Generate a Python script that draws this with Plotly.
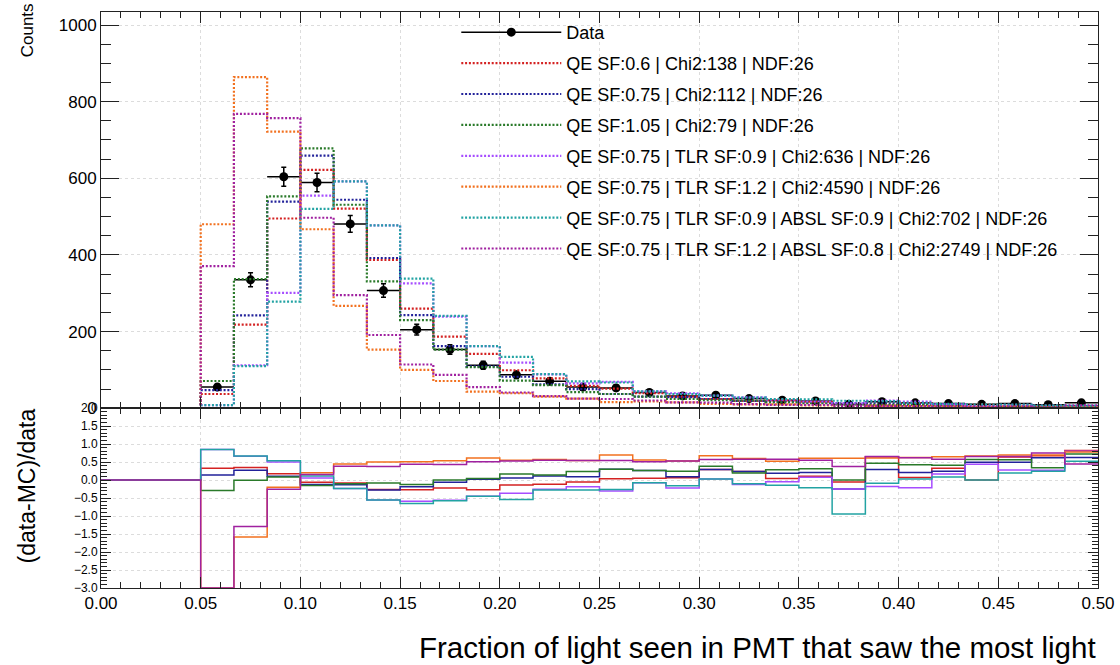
import numpy as np
import plotly.graph_objects as go

# ---------------- data ----------------
bin_edges = np.linspace(0.0, 0.5, 31)
bin_centers = 0.5 * (bin_edges[:-1] + bin_edges[1:])

data_counts = [0, 0, 0, 55, 335, 604, 589, 481, 307, 205, 153, 112, 87, 70, 55,
               53, 41, 32, 34, 25, 21, 19, 10, 17, 14, 12, 10, 12, 9, 14]
data_errors = [0, 0, 0, 7.4, 18.3, 24.6, 24.3, 21.9, 17.5, 14.3, 12.4, 10.6, 9.3, 8.4, 7.4,
               7.3, 6.4, 5.7, 5.8, 5.0, 4.6, 4.4, 3.2, 4.1, 3.7, 3.5, 3.2, 3.5, 3.0, 3.7]

mc_qe060 = [0, 0, 0, 37, 218, 495, 622, 521, 387, 260, 187, 142, 99, 78, 58,
            51, 39, 30, 24, 19, 20, 17, 10.5, 6, 13, 8, 10, 4.3, 2.9, 2.5]
mc_qe075 = [0, 0, 0, 47, 242, 539, 659, 544, 392, 243, 162, 109, 82, 62, 50,
            37, 30, 29, 24, 19, 17, 15, 12.5, 12, 11, 9, 5, 6, 3.4, 5.2]
mc_qe105 = [0, 0, 0, 71, 337, 553, 678, 531, 331, 230, 153, 107, 72, 60, 42,
            37, 30, 24, 21, 20, 15, 13, 10, 9, 8, 7, 4.3, 5.2, 5.9, 3.8]
mc_tlr09 = [0, 0, 0, 8, 112, 301, 555, 592, 477, 326, 239, 162, 119, 88, 65,
            69, 44, 39, 33, 28, 22, 17.5, 12.5, 20, 17, 10, 5.6, 8.6, 6.5, 2.8]
mc_tlr12 = [0, 0, 0, 480, 864, 722, 467, 267, 153, 100, 71, 43, 39, 30, 25,
            16, 18, 15, 11, 10, 10, 7.4, 3.9, 6.5, 5.2, 4.2, 3.3, 3.6, 2.7, 3.1]
mc_absl09 = [0, 0, 0, 8, 110, 278, 520, 592, 477, 338, 241, 162, 134, 89, 70,
             67, 44, 37, 33, 27.5, 24, 23, 19.4, 18.5, 13.6, 11, 10, 9.6, 6.8, 6.7]
mc_absl08 = [0, 0, 0, 371, 768, 757, 497, 295, 191, 114, 87, 55, 41, 31.5, 25,
             24, 20, 15, 14.6, 10.5, 8.8, 8.5, 6.2, 5.8, 5.3, 5, 3.4, 4.1, 2.2, 7.7]

series_names = [
    "QE SF:0.6 | Chi2:138 | NDF:26",
    "QE SF:0.75 | Chi2:112 | NDF:26",
    "QE SF:1.05 | Chi2:79 | NDF:26",
    "QE SF:0.75 | TLR SF:0.9 | Chi2:636 | NDF:26",
    "QE SF:0.75 | TLR SF:1.2 | Chi2:4590 | NDF:26",
    "QE SF:0.75 | TLR SF:0.9 | ABSL SF:0.9 | Chi2:702 | NDF:26",
    "QE SF:0.75 | TLR SF:1.2 | ABSL SF:0.8 | Chi2:2749 | NDF:26",
]
series_values = [mc_qe060, mc_qe075, mc_qe105, mc_tlr09, mc_tlr12, mc_absl09, mc_absl08]
series_colors = ["#d42222", "#22229a", "#2a7a2a", "#a64dff", "#f2711f", "#22a3a3", "#a021a0"]

FONT = "Liberation Sans, Arial, Helvetica, sans-serif"

fig = go.Figure()

# ---------------- top panel ----------------
d = np.array(data_counts, dtype=float)
plot_d = [v if v > 0 else None for v in data_counts]
fig.add_trace(go.Scatter(
    x=bin_centers, y=plot_d, mode="markers", xaxis="x", yaxis="y",
    marker=dict(color="black", size=9),
    error_y=dict(type="data", array=data_errors, color="black", thickness=1.5, width=2.5),
    error_x=dict(type="constant", value=(bin_edges[1] - bin_edges[0]) / 2, color="black",
                 thickness=1.5, width=0),
    showlegend=False, hoverinfo="skip"))
# legend entry for data
fig.add_trace(go.Scatter(
    x=[None], y=[None], mode="lines+markers", name="Data", xaxis="x", yaxis="y",
    line=dict(color="black", width=1.5), marker=dict(color="black", size=9),
    legendgroup="g0"))

for i, (name, vals, col) in enumerate(zip(series_names, series_values, series_colors)):
    fig.add_trace(go.Scatter(
        x=bin_edges, y=list(vals) + [vals[-1]], mode="lines", line_shape="hv",
        line=dict(color=col, width=2.2, dash="2px,1.8px"),
        name=name, xaxis="x", yaxis="y", legendgroup=f"g{i+1}"))

# ---------------- ratio panel ----------------
for i, (name, vals, col) in enumerate(zip(series_names, series_values, series_colors)):
    m = np.array(vals, dtype=float)
    r = np.where(d > 0, (d - m) / np.where(d > 0, d, 1), 0.0)
    r = np.clip(r, -3.0, 2.0)
    fig.add_trace(go.Scatter(
        x=bin_edges, y=list(r) + [r[-1]], mode="lines", line_shape="hv",
        line=dict(color=col, width=1.5), xaxis="x2", yaxis="y2",
        showlegend=False, hoverinfo="skip"))

# ---------------- layout ----------------
L, R, T, B = 101, 20, 5, 77
W, H = 1120, 665
plot_w = W - L - R
plot_h = H - T - B
split = (H - B - 406) / plot_h

axis_common = dict(showline=True, linecolor="#222", linewidth=1, mirror="ticks",
                   ticks="inside", tickcolor="#222", gridcolor="#dcdcdc", griddash="dot",
                   gridwidth=1, zeroline=False)

fig.update_layout(
    width=W, height=H, margin=dict(l=L, r=R, t=T, b=B),
    paper_bgcolor="white", plot_bgcolor="white",
    font=dict(family=FONT, color="black"),
    xaxis=dict(domain=[0, 1], anchor="y", range=[0, 0.5], dtick=0.05, showticklabels=False,
               ticklen=11, minor=dict(dtick=0.01, ticklen=6, ticks="inside", tickcolor="#222"),
               **axis_common),
    yaxis=dict(domain=[split, 1], anchor="x", range=[0, 1034], dtick=200, ticklen=18,
               tickfont=dict(size=17),
               minor=dict(dtick=50, ticklen=10, ticks="inside", tickcolor="#222"),
               **axis_common),
    xaxis2=dict(domain=[0, 1], anchor="y2", range=[0, 0.5], dtick=0.05, tickformat=".2f",
                tickfont=dict(size=17), ticklen=11,
                minor=dict(dtick=0.01, ticklen=6, ticks="inside", tickcolor="#222"),
                **axis_common),
    yaxis2=dict(domain=[0, split], anchor="x2", range=[-3, 2], dtick=0.5, tickformat=".1f",
                tickfont=dict(size=12), ticklen=10,
                minor=dict(dtick=0.1, ticklen=6, ticks="inside", tickcolor="#222"),
                **axis_common),
    legend=dict(x=(457 - L) / plot_w, y=(H - B - 7) / plot_h, xanchor="left", yanchor="top",
                bgcolor="rgba(0,0,0,0)", font=dict(size=18, family=FONT),
                itemwidth=100, traceorder="grouped", tracegroupgap=4.5),
    annotations=[
        dict(text="Counts", textangle=-90, xref="paper", yref="paper",
             x=(27 - L) / plot_w, y=(H - B + 6) / plot_h, xanchor="center", yanchor="top",
             showarrow=False, font=dict(size=17, family=FONT)),
        dict(text="(data-MC)/data", textangle=-90, xref="paper", yref="paper",
             x=(27 - L) / plot_w, y=(H - B - 485) / plot_h, xanchor="center", yanchor="middle",
             showarrow=False, font=dict(size=23, family=FONT)),
        dict(text="Fraction of light seen in PMT that saw the most light", xref="paper", yref="paper",
             x=1.0, y=(H - B - 648) / plot_h, xanchor="right", yanchor="middle",
             showarrow=False, font=dict(size=29.5, family=FONT)),
    ],
)

fig.write_html("out.html", config={"displayModeBar": False},
               post_script="document.body.style.margin='0';document.body.style.padding='0';")
